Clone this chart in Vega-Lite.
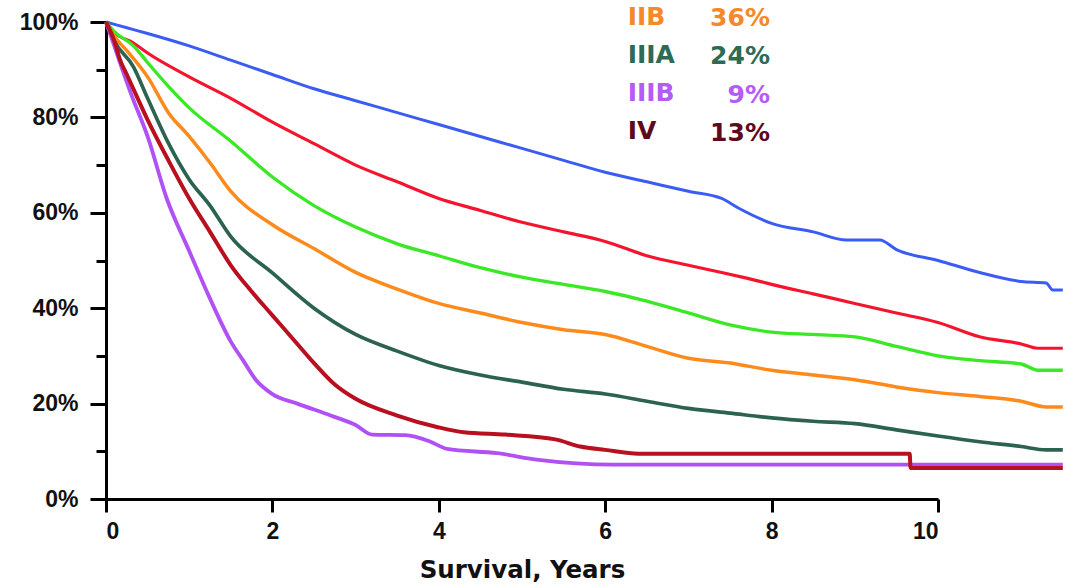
{
  "$schema": "https://vega.github.io/schema/vega-lite/v6.json",
  "width": 832,
  "height": 477,
  "autosize": "none",
  "padding": {"left": 106, "top": 22, "right": 127, "bottom": 86},
  "background": "white",
  "config": {"view": {"stroke": null}},
  "datasets": {
    "curves": [
      {"stage":"IA","t":0,"s":100},{"stage":"IA","t":0.25,"s":98.8},{"stage":"IA","t":0.5,"s":97.6},{"stage":"IA","t":1,"s":95},{"stage":"IA","t":1.5,"s":92},{"stage":"IA","t":2,"s":89},{"stage":"IA","t":2.5,"s":86},{"stage":"IA","t":3,"s":83.5},{"stage":"IA","t":3.5,"s":81},{"stage":"IA","t":4,"s":78.5},{"stage":"IA","t":4.5,"s":76},{"stage":"IA","t":5,"s":73.5},{"stage":"IA","t":5.5,"s":71},{"stage":"IA","t":6,"s":68.5},{"stage":"IA","t":6.5,"s":66.5},{"stage":"IA","t":7,"s":64.5},{"stage":"IA","t":7.4,"s":63},{"stage":"IA","t":7.6,"s":61},{"stage":"IA","t":8,"s":57.8},{"stage":"IA","t":8.5,"s":56},{"stage":"IA","t":8.9,"s":54.3},{"stage":"IA","t":9.3,"s":54.3},{"stage":"IA","t":9.5,"s":52.3},{"stage":"IA","t":10,"s":50},{"stage":"IA","t":10.5,"s":47.5},{"stage":"IA","t":11,"s":45.6},{"stage":"IA","t":11.3,"s":45.3},{"stage":"IA","t":11.38,"s":43.8},{"stage":"IA","t":11.5,"s":43.8},
      {"stage":"IB","t":0,"s":100},{"stage":"IB","t":0.1,"s":97.8},{"stage":"IB","t":0.33,"s":95.6},{"stage":"IB","t":0.5,"s":93.5},{"stage":"IB","t":1,"s":88.5},{"stage":"IB","t":1.5,"s":84},{"stage":"IB","t":2,"s":79},{"stage":"IB","t":2.5,"s":74.5},{"stage":"IB","t":3,"s":70},{"stage":"IB","t":3.5,"s":66.5},{"stage":"IB","t":4,"s":63},{"stage":"IB","t":4.5,"s":60.5},{"stage":"IB","t":5,"s":58},{"stage":"IB","t":5.5,"s":56},{"stage":"IB","t":6,"s":54},{"stage":"IB","t":6.5,"s":51},{"stage":"IB","t":7,"s":49},{"stage":"IB","t":7.4,"s":47.5},{"stage":"IB","t":7.7,"s":46.3},{"stage":"IB","t":8,"s":45},{"stage":"IB","t":8.5,"s":43},{"stage":"IB","t":9,"s":41},{"stage":"IB","t":9.5,"s":39},{"stage":"IB","t":10,"s":37},{"stage":"IB","t":10.5,"s":34},{"stage":"IB","t":11,"s":32.5},{"stage":"IB","t":11.2,"s":31.6},{"stage":"IB","t":11.5,"s":31.6},
      {"stage":"IIA","t":0,"s":100},{"stage":"IIA","t":0.1,"s":98},{"stage":"IIA","t":0.33,"s":95},{"stage":"IIA","t":0.5,"s":91.5},{"stage":"IIA","t":0.75,"s":86.5},{"stage":"IIA","t":1,"s":82},{"stage":"IIA","t":1.5,"s":75},{"stage":"IIA","t":2,"s":67.5},{"stage":"IIA","t":2.5,"s":61.5},{"stage":"IIA","t":3,"s":57},{"stage":"IIA","t":3.5,"s":53.5},{"stage":"IIA","t":4,"s":51},{"stage":"IIA","t":4.5,"s":48.5},{"stage":"IIA","t":5,"s":46.5},{"stage":"IIA","t":5.5,"s":45},{"stage":"IIA","t":6,"s":43.5},{"stage":"IIA","t":6.5,"s":41.5},{"stage":"IIA","t":7,"s":39},{"stage":"IIA","t":7.5,"s":36.5},{"stage":"IIA","t":8,"s":35},{"stage":"IIA","t":8.5,"s":34.5},{"stage":"IIA","t":9,"s":34},{"stage":"IIA","t":9.5,"s":32},{"stage":"IIA","t":10,"s":30},{"stage":"IIA","t":10.5,"s":29},{"stage":"IIA","t":11,"s":28.3},{"stage":"IIA","t":11.2,"s":27},{"stage":"IIA","t":11.5,"s":27},
      {"stage":"IIB","t":0,"s":100},{"stage":"IIB","t":0.1,"s":97},{"stage":"IIB","t":0.25,"s":94},{"stage":"IIB","t":0.5,"s":88.5},{"stage":"IIB","t":0.75,"s":81},{"stage":"IIB","t":1,"s":76},{"stage":"IIB","t":1.25,"s":70.5},{"stage":"IIB","t":1.5,"s":64.5},{"stage":"IIB","t":2,"s":57.5},{"stage":"IIB","t":2.5,"s":52.5},{"stage":"IIB","t":3,"s":47.5},{"stage":"IIB","t":3.5,"s":44},{"stage":"IIB","t":4,"s":41},{"stage":"IIB","t":4.5,"s":39},{"stage":"IIB","t":5,"s":37},{"stage":"IIB","t":5.5,"s":35.5},{"stage":"IIB","t":6,"s":34.5},{"stage":"IIB","t":6.5,"s":32},{"stage":"IIB","t":7,"s":29.5},{"stage":"IIB","t":7.5,"s":28.5},{"stage":"IIB","t":8,"s":27},{"stage":"IIB","t":8.5,"s":26},{"stage":"IIB","t":9,"s":25},{"stage":"IIB","t":9.5,"s":23.5},{"stage":"IIB","t":10,"s":22.3},{"stage":"IIB","t":10.5,"s":21.5},{"stage":"IIB","t":11,"s":20.5},{"stage":"IIB","t":11.3,"s":19.3},{"stage":"IIB","t":11.5,"s":19.3},
      {"stage":"IIIA","t":0,"s":100},{"stage":"IIIA","t":0.1,"s":96},{"stage":"IIIA","t":0.33,"s":90.6},{"stage":"IIIA","t":0.5,"s":84},{"stage":"IIIA","t":0.75,"s":74.6},{"stage":"IIIA","t":1,"s":67},{"stage":"IIIA","t":1.25,"s":61.5},{"stage":"IIIA","t":1.5,"s":55},{"stage":"IIIA","t":2,"s":47.4},{"stage":"IIIA","t":2.5,"s":40},{"stage":"IIIA","t":3,"s":34.5},{"stage":"IIIA","t":3.5,"s":31},{"stage":"IIIA","t":4,"s":28},{"stage":"IIIA","t":4.5,"s":26},{"stage":"IIIA","t":5,"s":24.5},{"stage":"IIIA","t":5.5,"s":23},{"stage":"IIIA","t":6,"s":22},{"stage":"IIIA","t":6.5,"s":20.5},{"stage":"IIIA","t":7,"s":19},{"stage":"IIIA","t":7.5,"s":18},{"stage":"IIIA","t":8,"s":17},{"stage":"IIIA","t":8.5,"s":16.3},{"stage":"IIIA","t":9,"s":15.8},{"stage":"IIIA","t":9.5,"s":14.5},{"stage":"IIIA","t":10,"s":13.2},{"stage":"IIIA","t":10.5,"s":12},{"stage":"IIIA","t":11,"s":11},{"stage":"IIIA","t":11.3,"s":10.3},{"stage":"IIIA","t":11.5,"s":10.3},
      {"stage":"IIIB","t":0,"s":100},{"stage":"IIIB","t":0.1,"s":95},{"stage":"IIIB","t":0.17,"s":91.4},{"stage":"IIIB","t":0.3,"s":85},{"stage":"IIIB","t":0.5,"s":76},{"stage":"IIIB","t":0.73,"s":63},{"stage":"IIIB","t":1,"s":52},{"stage":"IIIB","t":1.25,"s":42},{"stage":"IIIB","t":1.5,"s":33},{"stage":"IIIB","t":1.65,"s":29},{"stage":"IIIB","t":1.8,"s":25},{"stage":"IIIB","t":2,"s":22},{"stage":"IIIB","t":2.3,"s":20},{"stage":"IIIB","t":2.7,"s":17.5},{"stage":"IIIB","t":3,"s":15.5},{"stage":"IIIB","t":3.2,"s":13.5},{"stage":"IIIB","t":3.6,"s":13.4},{"stage":"IIIB","t":3.9,"s":12},{"stage":"IIIB","t":4.1,"s":10.5},{"stage":"IIIB","t":4.7,"s":9.6},{"stage":"IIIB","t":5.2,"s":8.2},{"stage":"IIIB","t":6.1,"s":7.2},{"stage":"IIIB","t":11.5,"s":7.2},
      {"stage":"IV","t":0,"s":100},{"stage":"IV","t":0.1,"s":96},{"stage":"IV","t":0.17,"s":92},{"stage":"IV","t":0.25,"s":89},{"stage":"IV","t":0.5,"s":79.5},{"stage":"IV","t":0.75,"s":71},{"stage":"IV","t":1,"s":63},{"stage":"IV","t":1.25,"s":56},{"stage":"IV","t":1.5,"s":49},{"stage":"IV","t":1.75,"s":43.5},{"stage":"IV","t":2,"s":38.5},{"stage":"IV","t":2.25,"s":33.5},{"stage":"IV","t":2.5,"s":28.5},{"stage":"IV","t":2.75,"s":24},{"stage":"IV","t":3,"s":21},{"stage":"IV","t":3.5,"s":17.5},{"stage":"IV","t":4,"s":15},{"stage":"IV","t":4.3,"s":14},{"stage":"IV","t":4.8,"s":13.5},{"stage":"IV","t":5.4,"s":12.5},{"stage":"IV","t":5.7,"s":11},{"stage":"IV","t":6,"s":10.3},{"stage":"IV","t":6.4,"s":9.5},{"stage":"IV","t":9.66,"s":9.5},{"stage":"IV","t":9.67,"s":6.5},{"stage":"IV","t":11.5,"s":6.5}
    ],
    "legend": [
      {"stage":"IIB","pct":"36%"},
      {"stage":"IIIA","pct":"24%"},
      {"stage":"IIIB","pct":"9%"},
      {"stage":"IV","pct":"13%"}
    ]
  },
  "layer": [
    {
      "data": {"name": "curves"},
      "mark": {"type": "line", "clip": false, "strokeJoin": "round", "interpolate": "monotone"},
      "encoding": {
        "x": {
          "field": "t", "type": "quantitative",
          "scale": {"domain": [0, 10], "nice": false, "zero": false},
          "axis": {
            "values": [0, 2, 4, 6, 8, 10], "format": "d", "grid": false,
            "domainColor": "black", "domainWidth": 3,
            "tickColor": "black", "tickWidth": 3, "tickSize": 13,
            "labelFont": "Liberation Sans", "labelFontWeight": "bold", "labelFontSize": 23, "labelColor": "#111111", "labelPadding": 8,
            "title": "Survival, Years", "titleFont": "DejaVu Sans", "titleFontWeight": "bold", "titleFontSize": 24.5, "titleColor": "#111111", "titlePadding": 15
          }
        },
        "y": {
          "field": "s", "type": "quantitative",
          "scale": {"domain": [0, 100], "nice": false},
          "axis": {
            "values": [0, 10, 20, 30, 40, 50, 60, 70, 80, 90, 100],
            "labelExpr": "datum.value % 20 == 0 ? datum.value + '%' : ''",
            "grid": false, "title": null,
            "domainColor": "black", "domainWidth": 3,
            "tickColor": "black", "tickWidth": 3,
            "tickSize": {"condition": {"test": "datum.value % 20 == 0", "value": 16}, "value": 10},
            "labelFont": "Liberation Sans", "labelFontWeight": "bold", "labelFontSize": 23, "labelColor": "#111111", "labelPadding": 12
          }
        },
        "color": {
          "field": "stage", "type": "nominal", "legend": null,
          "scale": {"domain": ["IA","IB","IIA","IIB","IIIA","IIIB","IV"], "range": ["#3a5cf5","#f5142d","#3be826","#ff8a1c","#2c6350","#b050f5","#b8101e"]}
        },
        "strokeWidth": {
          "field": "stage", "type": "nominal", "legend": null,
          "scale": {"domain": ["IA","IB","IIA","IIB","IIIA","IIIB","IV"], "range": [3, 4, 4, 3.5, 2.5, 3.5, 4]}
        }
      }
    },
    {
      "data": {"name": "legend"},
      "mark": {"type": "text", "align": "left", "baseline": "middle", "font": "DejaVu Sans", "fontWeight": "bold", "fontSize": 25},
      "encoding": {
        "x": {"datum": 6.27, "type": "quantitative"},
        "y": {"field": "stage", "type": "nominal", "axis": null, "scale": {"type": "point", "padding": 0, "domain": ["IIB","IIIA","IIIB","IV"], "range": [-5, 109]}},
        "text": {"field": "stage"},
        "color": {"field": "stage", "type": "nominal", "legend": null, "scale": {"domain": ["IIB","IIIA","IIIB","IV"], "range": ["#f5892a","#2c6b55","#b45cf5","#5c0a1c"]}}
      }
    },
    {
      "data": {"name": "legend"},
      "mark": {"type": "text", "align": "right", "baseline": "middle", "font": "DejaVu Sans", "fontWeight": "bold", "fontSize": 25},
      "encoding": {
        "x": {"datum": 7.98, "type": "quantitative"},
        "y": {"field": "stage", "type": "nominal", "axis": null, "scale": {"type": "point", "padding": 0, "domain": ["IIB","IIIA","IIIB","IV"], "range": [-4, 111]}},
        "text": {"field": "pct"},
        "color": {"field": "stage", "type": "nominal", "legend": null, "scale": {"domain": ["IIB","IIIA","IIIB","IV"], "range": ["#f5892a","#2c6b55","#b45cf5","#5c0a1c"]}}
      }
    }
  ],
  "resolve": {"scale": {"y": "independent", "color": "independent"}}
}
